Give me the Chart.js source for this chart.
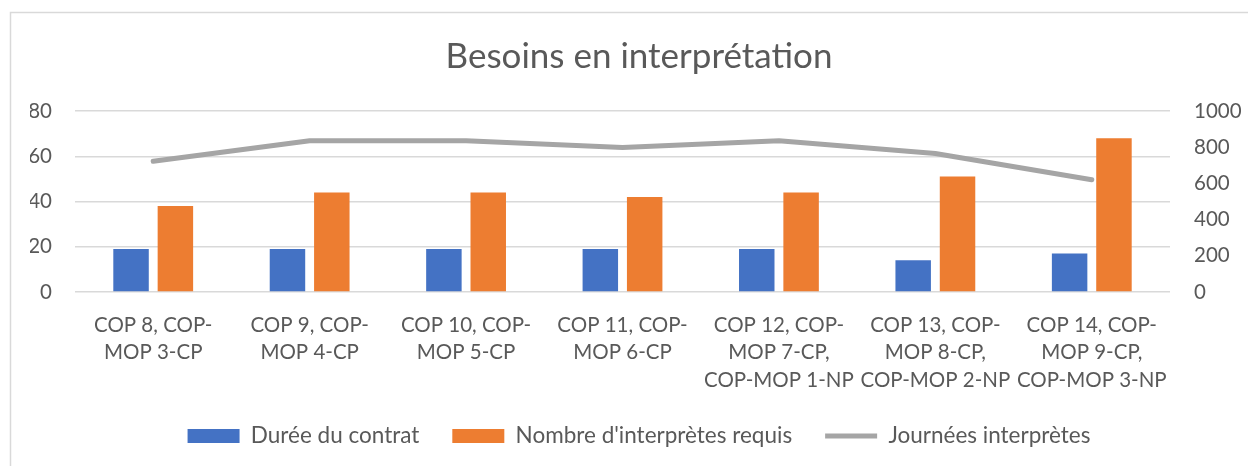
<!DOCTYPE html>
<html>
<head>
<meta charset="utf-8">
<title>Besoins en interprétation</title>
<script src="https://cdn.jsdelivr.net/npm/chart.js@4.4.1/dist/chart.umd.min.js"></script>
<style>
  html, body { margin: 0; padding: 0; background: #fff; }
</style>
</head>
<body>
<canvas id="chart" width="1248" height="466"></canvas>
<script>
// categories, wrapped the way the original chart wraps them
var categories = [
  ["COP 8, COP-", "MOP 3-CP"],
  ["COP 9, COP-", "MOP 4-CP"],
  ["COP 10, COP-", "MOP 5-CP"],
  ["COP 11, COP-", "MOP 6-CP"],
  ["COP 12, COP-", "MOP 7-CP,", "COP-MOP 1-NP"],
  ["COP 13, COP-", "MOP 8-CP,", "COP-MOP 2-NP"],
  ["COP 14, COP-", "MOP 9-CP,", "COP-MOP 3-NP"]
];
var dureeContrat = [19, 19, 19, 19, 19, 14, 17];
var nombreInterpretes = [38, 44, 44, 42, 44, 51, 68];
var journeesInterpretes = [722, 836, 836, 798, 836, 765, 620];

var leftTicks = { min: 0, max: 80, step: 20 };
var rightTicks = { min: 0, max: 1000, step: 200 };

var textColor = "#595959";
var gridColor = "#d9d9d9";

Chart.defaults.font.family = "Lato, 'Open Sans', sans-serif";
Chart.defaults.color = textColor;

// white background + the light frame of the original chart area
var framePlugin = {
  id: "frame",
  beforeDraw: function (chart) {
    var ctx = chart.ctx;
    ctx.save();
    ctx.fillStyle = "#ffffff";
    ctx.fillRect(0, 0, chart.width, chart.height);
    ctx.strokeStyle = gridColor;
    ctx.lineWidth = 1.5;
    ctx.beginPath();
    ctx.moveTo(10.5, chart.height);
    ctx.lineTo(10.5, 12.5);
    ctx.lineTo(chart.width, 12.5);
    ctx.stroke();
    ctx.restore();
  }
};

var ctx = document.getElementById("chart");
var chart = new Chart(ctx, {
  type: "bar",
  data: {
    labels: categories,
    datasets: [
      {
        label: "Durée du contrat",
        data: dureeContrat,
        backgroundColor: "#4472c4",
        borderWidth: 0,
        pointStyle: "rect",
        yAxisID: "y",
        barPercentage: 0.8,
        categoryPercentage: 0.567
      },
      {
        label: "Nombre d'interprètes requis",
        data: nombreInterpretes,
        backgroundColor: "#ed7d31",
        borderWidth: 0,
        pointStyle: "rect",
        yAxisID: "y",
        barPercentage: 0.8,
        categoryPercentage: 0.567
      },
      {
        type: "line",
        label: "Journées interprètes",
        data: journeesInterpretes,
        borderColor: "#a5a5a5",
        backgroundColor: "#a5a5a5",
        borderWidth: 5,
        borderCapStyle: "round",
        borderJoinStyle: "round",
        pointRadius: 0,
        pointStyle: "line",
        tension: 0,
        yAxisID: "y1"
      }
    ]
  },
  options: {
    responsive: false,
    animation: false,
    devicePixelRatio: 1,
    layout: {
      padding: { top: 0, bottom: 8.75, left: 30, right: 0 }
    },
    plugins: {
      title: {
        display: true,
        text: "Besoins en interprétation",
        color: textColor,
        font: { size: 35, weight: "normal" },
        padding: { top: 36, bottom: 33 }
      },
      legend: {
        position: "bottom",
        labels: {
          usePointStyle: true,
          pointStyleWidth: 52,
          boxHeight: 14,
          padding: 33,
          color: textColor,
          font: { size: 22.5 }
        }
      },
      tooltip: { enabled: false }
    },
    scales: {
      x: {
        grid: { display: false, drawTicks: false },
        border: { display: false },
        ticks: {
          color: textColor,
          font: { size: 20.5, lineHeight: 1.34 },
          padding: 19.5,
          maxRotation: 0,
          autoSkip: false
        },
        afterFit: function (scale) { scale.height = 99.75; }
      },
      y: {
        position: "left",
        min: leftTicks.min,
        max: leftTicks.max,
        ticks: { stepSize: leftTicks.step, color: textColor, font: { size: 20.5 }, padding: 23 },
        grid: { color: gridColor, lineWidth: 1.5, drawTicks: false },
        border: { display: false },
        afterFit: function (scale) { scale.width = 45; }
      },
      y1: {
        position: "right",
        min: rightTicks.min,
        max: rightTicks.max,
        ticks: {
          stepSize: rightTicks.step,
          color: textColor,
          font: { size: 20.5 },
          padding: 24,
          callback: function (value) { return String(value); }
        },
        grid: { drawOnChartArea: false, drawTicks: false },
        border: { display: false },
        afterFit: function (scale) { scale.width = 78; }
      }
    }
  },
  plugins: [framePlugin]
});
</script>
</body>
</html>
